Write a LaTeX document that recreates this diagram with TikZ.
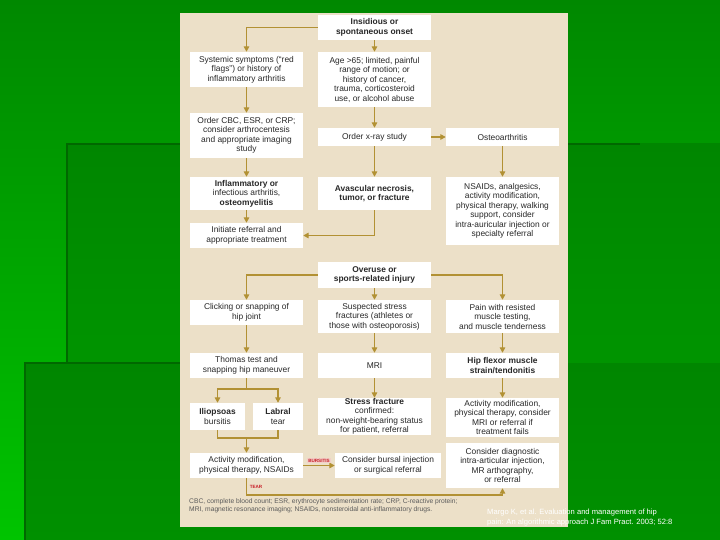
\documentclass[tikz,border=0pt]{standalone}
\usepackage{fontspec}
\setmainfont{Liberation Sans}
\usetikzlibrary{arrows.meta}
\definecolor{bgtop}{RGB}{0,136,0}
\definecolor{bgbottom}{RGB}{0,196,0}
\definecolor{bginner}{RGB}{0,134,0}
\definecolor{bginnerlow}{RGB}{0,160,0}
\definecolor{bgline}{RGB}{0,104,0}
\definecolor{panelbg}{RGB}{236,224,200}
\definecolor{arrowgold}{RGB}{178,145,52}
\definecolor{boxtext}{RGB}{40,40,40}
\definecolor{notegray}{RGB}{90,90,90}
\definecolor{tagred}{RGB}{200,30,40}
\definecolor{tagpink}{RGB}{242,208,200}
\newcommand{\boxfont}{\fontsize{8.4}{9.5}\selectfont}
\newcommand{\notefont}{\fontsize{6.7}{8}\selectfont}
\newcommand{\tagfont}{\fontsize{4.6}{5}\selectfont\bfseries}
\newcommand{\citefont}{\fontsize{7.6}{10}\selectfont}

\begin{document}
\begin{tikzpicture}[x=1pt,y=-1pt,
	box/.style={fill=white,text=boxtext,font=\boxfont,align=center,inner sep=0pt,minimum width=113pt},
	boldbox/.style={box,font=\boxfont\bfseries},
	arr/.style={draw=arrowgold,line width=1.9pt,-{Triangle[length=5.5pt,width=5.5pt]}},
	link/.style={draw=arrowgold,line width=1.9pt},
	tag/.style={text=tagred,font=\tagfont,inner sep=0.8pt}]
		\useasboundingbox (0,0) rectangle (720,540);
		% green background and its frames
		\shade[top color=bgtop,bottom color=bgbottom] (0,0) rectangle (720,540);
		\shade[top color=bginner,bottom color=bginnerlow] (67,144) rectangle (720,540);
		\draw[bgline,line width=2pt] (67,540)--(67,144)--(640,144);
		\shade[top color=bginner,bottom color=bginnerlow!90!black] (25,363) rectangle (720,540);
		\draw[bgline,line width=1.5pt] (25,540)--(25,363)--(180,363);
		\fill[panelbg] (180,13) rectangle (568,527);
		
		\node[boldbox,minimum height=25pt] (onset) at (374.5,27.5) {Insidious or\\spontaneous onset};
		\node[box,minimum height=35pt] (systemic) at (246.5,69.5) {Systemic symptoms (“red\\flags”) or history of\\inflammatory arthritis};
		\node[box,minimum height=55pt] (age) at (374.5,79.5) {Age >65; limited, painful\\range of motion; or\\history of cancer,\\trauma, corticosteroid\\use, or alcohol abuse};
		\node[box,minimum height=45pt] (cbc) at (246.5,135.5) {Order CBC, ESR, or CRP;\\consider arthrocentesis\\and appropriate imaging\\study};
		\node[box,minimum height=18pt] (xray) at (374.5,137) {Order x-ray study};
		\node[box,minimum height=18pt] (osteo) at (502.5,137) {Osteoarthritis};
		\node[box,minimum height=33pt] (inflam) at (246.5,193.5) {\textbf{Inflammatory or}\\infectious arthritis,\\\textbf{osteomyelitis}};
		\node[boldbox,minimum height=33pt] (avasc) at (374.5,193.5) {Avascular necrosis,\\tumor, or fracture};
		\node[box,minimum height=68pt] (nsaid) at (502.5,211) {NSAIDs, analgesics,\\activity modification,\\physical therapy, walking\\support, consider\\intra-auricular injection or\\specialty referral};
		\node[box,minimum height=25pt] (initiate) at (246.5,235.5) {Initiate referral and\\appropriate treatment};
		\node[boldbox,minimum height=26pt] (overuse) at (374.5,275) {Overuse or\\sports-related injury};
		\node[box,minimum height=25pt] (click) at (246.5,312.5) {Clicking or snapping of\\hip joint};
		\node[box,minimum height=33pt] (suspect) at (374.5,316.5) {Suspected stress\\fractures (athletes or\\those with osteoporosis)};
		\node[box,minimum height=33pt] (pain) at (502.5,316.5) {Pain with resisted\\muscle testing,\\and muscle tenderness};
		\node[box,minimum height=25pt] (thomas) at (246.5,365.5) {Thomas test and\\snapping hip maneuver};
		\node[box,minimum height=25pt] (mri) at (374.5,365.5) {MRI};
		\node[boldbox,minimum height=25pt] (flexor) at (502.5,365.5) {Hip flexor muscle\\strain/tendonitis};
		\node[box,minimum width=55pt,minimum height=27pt] (iliop) at (217.5,416.5) {\textbf{Iliopsoas}\\bursitis};
		\node[box,minimum width=50pt,minimum height=27pt] (labral) at (278,416.5) {\textbf{Labral}\\tear};
		\node[box,minimum height=37pt] (stress) at (374.5,416.5) {\textbf{Stress fracture}\\confirmed:\\non-weight-bearing status\\for patient, referral};
		\node[box,minimum height=39pt] (actright) at (502.5,417.5) {Activity modification,\\physical therapy, consider\\MRI or referral if\\treatment fails};
		\node[box,minimum height=25pt] (actleft) at (246.5,465.5) {Activity modification,\\physical therapy, NSAIDs};
		\node[box,minimum width=106pt,minimum height=25pt] (bursal) at (388,465.5) {Consider bursal injection\\or surgical referral};
		\node[box,minimum height=45pt] (diag) at (502.5,465.5) {Consider diagnostic\\intra-articular injection,\\MR arthography,\\or referral};
		
		\draw[arr] (onset.west) -| (systemic.north);
		\draw[arr] (onset)--(age);
		\draw[arr] (systemic)--(cbc);
		\draw[arr] (age)--(xray);
		\draw[arr] (xray)--(osteo);
		\draw[arr] (cbc)--(inflam);
		\draw[arr] (xray)--(avasc);
		\draw[arr] (osteo)--(nsaid);
		\draw[arr] (inflam)--(initiate);
		\draw[arr] (avasc) |- (initiate);
		
		\draw[arr] (overuse.west) -| (click.north);
		\draw[arr] (overuse.east) -| (pain.north);
		\draw[arr] (overuse)--(suspect);
		\draw[arr] (click)--(thomas);
		\draw[arr] (suspect)--(mri);
		\draw[arr] (pain)--(flexor);
		\draw[arr] (mri)--(stress);
		\draw[arr] (flexor)--(actright);
		
		\coordinate (fork) at (246.5,389);
		\draw[link] (thomas)--(fork);
		\draw[arr] (fork) -| (iliop.north);
		\draw[arr] (fork) -| (labral.north);
		\coordinate (join) at (246.5,438);
		\draw[link] (iliop.south) |- (join) -| (labral.south);
		\draw[arr] (join)--(actleft);
		\draw[arr] (actleft)--node[tag,fill=tagpink,above=1.5pt]{BURSITIS} (bursal);
		\coordinate (tearturn) at (246.5,495);
		\draw[arr] (actleft)--node[tag,right=1.5pt]{TEAR} (tearturn) -| (diag.south);
		
		\node[anchor=north west,text=notegray,font=\notefont,align=left,inner sep=0pt] (notes) at (189,498) {CBC, complete blood count; ESR, erythrocyte sedimentation rate; CRP, C-reactive protein;\\MRI, magnetic resonance imaging; NSAIDs, nonsteroidal anti-inflammatory drugs.};
		\node[anchor=west,text=white,font=\citefont,align=left,inner sep=0pt] (cite) at (487,518) {Margo K, et al. Evaluation and management of hip\\pain: An algorithmic approach J Fam Pract. 2003; 52:8};
	\end{tikzpicture}
\end{document}
